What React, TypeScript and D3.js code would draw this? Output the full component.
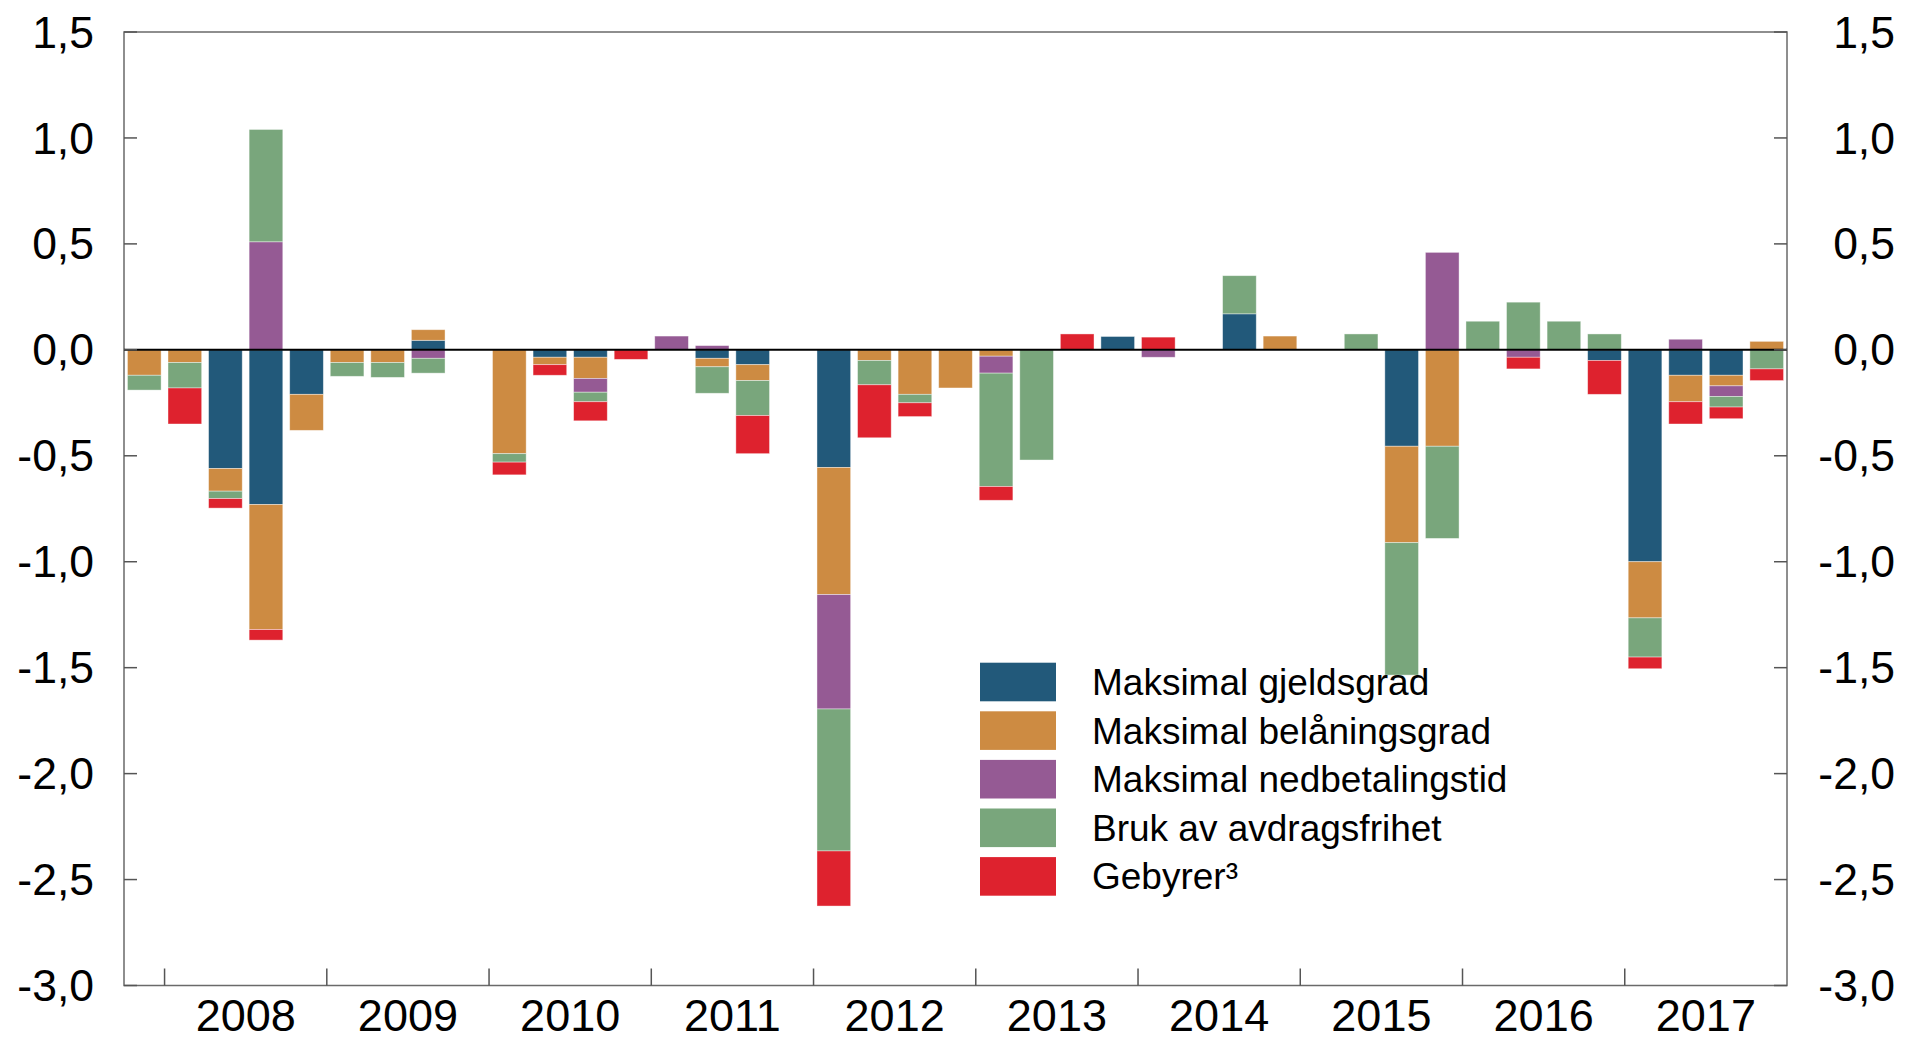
import React from 'react'
import * as d3 from 'd3'

const quarters = [
  '2007Q4',
  '2008Q1', '2008Q2', '2008Q3', '2008Q4',
  '2009Q1', '2009Q2', '2009Q3', '2009Q4',
  '2010Q1', '2010Q2', '2010Q3', '2010Q4',
  '2011Q1', '2011Q2', '2011Q3', '2011Q4',
  '2012Q1', '2012Q2', '2012Q3', '2012Q4',
  '2013Q1', '2013Q2', '2013Q3', '2013Q4',
  '2014Q1', '2014Q2', '2014Q3', '2014Q4',
  '2015Q1', '2015Q2', '2015Q3', '2015Q4',
  '2016Q1', '2016Q2', '2016Q3', '2016Q4',
  '2017Q1', '2017Q2', '2017Q3', '2017Q4'
]

const years = ['2008', '2009', '2010', '2011', '2012', '2013', '2014', '2015', '2016', '2017']

const yTicks = [1.5, 1, 0.5, 0, -0.5, -1, -1.5, -2, -2.5, -3]

// Maksimal gjeldsgrad
const gjeldsgrad = [
  0,
  0, -0.56, -0.73, -0.21,
  0, 0, 0.045, 0,
  0, -0.035, -0.035, 0,
  0, -0.04, -0.07, 0,
  -0.555, 0, 0, 0,
  0, 0, 0, 0.063,
  0, 0, 0.17, 0,
  0, 0, -0.455, 0,
  0, 0, 0, -0.05,
  -1.0, -0.12, -0.12, 0
]

// Maksimal belåningsgrad
const belaningsgrad = [
  -0.12,
  -0.06, -0.107, -0.59, -0.17,
  -0.06, -0.06, 0.05, 0,
  -0.49, -0.035, -0.1, 0,
  0, -0.04, -0.075, 0,
  -0.6, -0.05, -0.21, -0.18,
  -0.03, 0, 0, 0,
  0, 0, 0, 0.065,
  0, 0, -0.455, -0.455,
  0, 0, 0, 0,
  -0.265, -0.125, -0.05, 0.04
]

// Maksimal nedbetalingstid
const nedbetalingstid = [
  0,
  0, 0, 0.51, 0,
  0, 0, -0.04, 0,
  0, 0, -0.065, 0,
  0.065, 0.02, 0, 0,
  -0.54, 0, 0, 0,
  -0.08, 0, 0, 0,
  -0.035, 0, 0, 0,
  0, 0, 0, 0.46,
  0, -0.035, 0, 0,
  0, 0.05, -0.05, 0
]

// Bruk av avdragsfrihet
const avdragsfrihet = [
  -0.07,
  -0.12, -0.035, 0.53, 0,
  -0.065, -0.07, -0.07, 0,
  -0.04, 0, -0.045, 0,
  0, -0.125, -0.165, 0,
  -0.67, -0.115, -0.04, 0,
  -0.535, -0.52, 0, 0,
  0, 0, 0.18, 0,
  0, 0.075, -0.625, -0.435,
  0.135, 0.225, 0.135, 0.075,
  -0.185, 0, -0.05, -0.09
]

// Gebyrer
const gebyrer = [
  0,
  -0.17, -0.045, -0.05, 0,
  0, 0, 0, 0,
  -0.06, -0.05, -0.09, -0.045,
  0, 0, -0.18, 0,
  -0.26, -0.25, -0.065, 0,
  -0.065, 0, 0.075, 0,
  0.06, 0, 0, 0,
  0, 0, 0, 0,
  0, -0.055, 0, -0.16,
  -0.055, -0.105, -0.055, -0.055
]

const seriesKeys = ['gjeld', 'belaning', 'nedbetaling', 'avdrag', 'gebyr']
const seriesNames = [
  'Maksimal gjeldsgrad',
  'Maksimal belåningsgrad',
  'Maksimal nedbetalingstid',
  'Bruk av avdragsfrihet',
  'Gebyrer³'
]
const colors = ['#22597a', '#cd8b42', '#955a94', '#79a67c', '#de222e']

const rows = quarters.map((q, i) => ({
  q,
  gjeld: gjeldsgrad[i],
  belaning: belaningsgrad[i],
  nedbetaling: nedbetalingstid[i],
  avdrag: avdragsfrihet[i],
  gebyr: gebyrer[i]
}))

const W = 1916
const H = 1040
const left = 124
const right = 1787
const top = 32
const bottom = 985.5
const font = '"Liberation Sans", Arial, sans-serif'

export default function App () {
  const x = d3.scaleBand<string>()
    .domain(quarters)
    .range([left, right])
    .paddingInner(0.17)
    .paddingOuter(0.085)
  const y = d3.scaleLinear().domain([-3, 1.5]).range([bottom, top])

  const stacked = d3.stack<any>()
    .keys(seriesKeys)
    .order(d3.stackOrderNone)
    .offset(d3.stackOffsetDiverging)(rows)

  const step = x.step()
  const gap = (step - x.bandwidth()) / 2
  const fmt = (v: number) => d3.format('.1f')(v).replace('.', ',').replace('−', '-')

  return (
    <svg width={W} height={H} style={{ position: 'absolute', left: 0, top: 0, background: '#fff' }}>
      {stacked.map((s, si) => (
        <g key={s.key} fill={colors[si]}>
          {s.map((d, i) => {
            const h = Math.abs(y(d[0]) - y(d[1]))
            if (h < 0.01) return null
            return (
              <rect
                key={i}
                x={x(quarters[i])}
                y={Math.min(y(d[0]), y(d[1]))}
                width={x.bandwidth()}
                height={h}
                stroke='#fff'
                strokeOpacity={0.5}
                strokeWidth={0.8}
              />
            )
          })}
        </g>
      ))}

      <rect x={left} y={top} width={right - left} height={bottom - top}
        fill='none' stroke='#6a6a6a' strokeWidth={1.5} />
      <line x1={left} x2={right} y1={y(0)} y2={y(0)} stroke='#000' strokeWidth={2} />

      {yTicks.map(t => (
        <g key={t}>
          <line x1={left} x2={left + 13} y1={y(t)} y2={y(t)} stroke='#555' strokeWidth={1.5} />
          <line x1={right - 13} x2={right} y1={y(t)} y2={y(t)} stroke='#555' strokeWidth={1.5} />
          <text x={94} y={y(t)} dy='0.35em' textAnchor='end'
            fontFamily={font} fontSize={44.5} fill='#000'>{fmt(t)}</text>
          <text x={1895} y={y(t)} dy='0.35em' textAnchor='end'
            fontFamily={font} fontSize={44.5} fill='#000'>{fmt(t)}</text>
        </g>
      ))}

      {years.map(yr => {
        const x0 = (x(yr + 'Q1') as number) - gap
        const x1 = (x(yr + 'Q4') as number) + x.bandwidth() + gap
        return (
          <g key={yr}>
            <line x1={x0} x2={x0} y1={bottom} y2={bottom - 17} stroke='#555' strokeWidth={1.5} />
            <text x={(x0 + x1) / 2} y={1031} textAnchor='middle'
              fontFamily={font} fontSize={45} fill='#000'>{yr}</text>
          </g>
        )
      })}

      {seriesNames.map((name, i) => {
        const cy = 682 + i * 48.6
        return (
          <g key={name}>
            <rect x={980} y={cy - 19.3} width={76} height={38.6} fill={colors[i]} />
            <text x={1092} y={cy + 13} fontFamily={font} fontSize={37} fill='#000'>{name}</text>
          </g>
        )
      })}
    </svg>
  )
}
